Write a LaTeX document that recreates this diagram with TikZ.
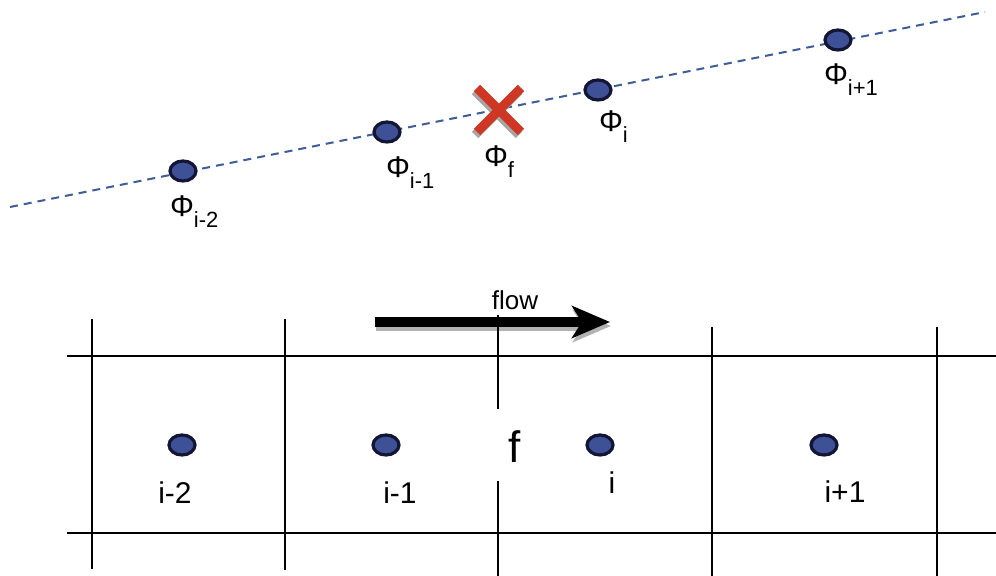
\documentclass[tikz,border=0pt]{standalone}
\usepackage{fontspec}
\setmainfont{Liberation Sans}
\usetikzlibrary{arrows.meta,positioning,shapes.geometric}
\definecolor{dotfill}{RGB}{62,80,150}
\definecolor{dotedge}{RGB}{18,22,52}
\definecolor{dashblue}{RGB}{62,92,150}
\definecolor{crossred}{RGB}{205,55,35}
\newcommand{\phisub}[1]{Φ\rlap{\raisebox{-5.5pt}{\fontsize{11}{13}\selectfont #1}}}
\begin{document}
\begin{tikzpicture}[x=0.5pt,y=-0.5pt,every node/.style={font=\fontsize{15}{18}\selectfont,inner sep=0pt},
  celldot/.style={ellipse,draw=dotedge,fill=dotfill,line width=1.6pt,minimum width=13pt,minimum height=10pt},
  gridline/.style={line width=1.3pt,line cap=rect}]
\useasboundingbox (0,0) rectangle (996,576);
% interpolation line and values
\coordinate (lstart) at (10,207); \coordinate (lend) at (985,12);
\draw[dashblue,line width=1pt,dash pattern=on 4pt off 3pt] (lstart) -- (lend);
\foreach \n/\x/\y in {pm2/183/171,pm1/387/132,pp0/598/90,pp1/838/40}{\node[celldot] (\n) at (\x,\y) {};}
\foreach \n/\dx/\dy/\t in {pm2/-1/46/i-2,pm1/11/46/i-1,pp0/13/42/i,pp1/-2/45/i+1}{\node[anchor=base] (l\n) at ([shift={(\dx,\dy)}]\n) {\phisub{\t}};}
% face value
\coordinate (xf) at (499,110);
\draw[gray!70,line width=4.5pt] ([shift={(-24,-19)}]xf) -- ([shift={(20,25)}]xf) ([shift={(-24,25)}]xf) -- ([shift={(20,-19)}]xf);
\draw[crossred,line width=4.5pt] ([shift={(-22,-22)}]xf) -- ([shift={(22,22)}]xf) ([shift={(-22,22)}]xf) -- ([shift={(22,-22)}]xf);
\node[anchor=base] (lxf) at ([shift={(-3,57)}]xf) {\phisub{f}};
% flow direction
\coordinate (fa) at (375,322); \coordinate (fb) at (610,322);
\draw[gray!60,line width=5pt,-{Stealth[length=19pt,width=16pt,inset=5pt]}] ([shift={(1,4)}]fa) -- ([shift={(1,4)}]fb);
\draw[black,line width=5pt,-{Stealth[length=19pt,width=16pt,inset=5pt]}] (fa) -- (fb);
\node[anchor=base,font=\fontsize{13}{15}\selectfont] (lflow) at (515,310) {flow};
% grid of cells
\draw[gridline] (68,356) -- (996,356) (68,533) -- (996,533);
\draw[gridline] (92,320) -- (92,568) (285,320) -- (285,569) (712,328) -- (712,576) (937,328) -- (937,576);
\draw[gridline] (498,316) -- (498,408) (498,482) -- (498,576);
\foreach \n/\x in {cm2/182,cm1/386,cp0/600,cp1/824}{\node[celldot] (\n) at (\x,445) {};}
\foreach \n/\dx/\dy/\t in {cm2/-7/59/i-2,cm1/14/59/i-1,cp0/12/49/i,cp1/21/58/i+1}{\node[anchor=base] (l\n) at ([shift={(\dx,\dy)}]\n) {\t};}
\node[anchor=base,font=\fontsize{22}{26}\selectfont] (lface) at (515,463) {f};
\end{tikzpicture}
\end{document}
